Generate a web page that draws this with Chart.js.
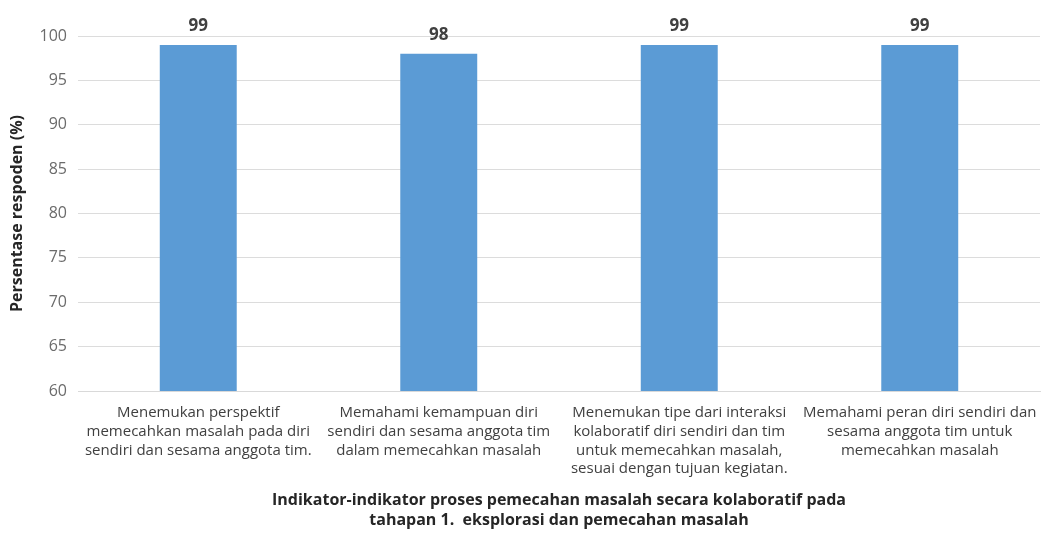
<!DOCTYPE html>
<html>
<head>
<meta charset="utf-8">
<script src="https://cdn.jsdelivr.net/npm/chart.js@4/dist/chart.umd.min.js"></script>
<style>
html,body{margin:0;padding:0;background:#fff;}
#wrap{width:1043px;height:538px;position:relative;}
</style>
</head>
<body>
<div id="wrap"><canvas id="c" width="1043" height="538"></canvas></div>
<script>
const categories = [
  ["Menemukan perspektif", "memecahkan masalah pada diri", "sendiri dan sesama anggota tim."],
  ["Memahami kemampuan diri", "sendiri dan sesama anggota tim", "dalam memecahkan masalah"],
  ["Menemukan tipe dari interaksi", "kolaboratif diri sendiri dan tim", "untuk memecahkan masalah,", "sesuai dengan tujuan kegiatan."],
  ["Memahami peran diri sendiri dan", "sesama anggota tim untuk", "memecahkan masalah"]
];
const values = [99, 98, 99, 99];
const yTitle = "Persentase respoden (%)";
const xTitle = ["Indikator-indikator proses pemecahan masalah secara kolaboratif pada", "tahapan 1.  eksplorasi dan pemecahan masalah"];

const FONT = "'Open Sans', sans-serif";

const dataLabels = {
  id: 'dataLabels',
  afterDatasetsDraw(chart) {
    const ctx = chart.ctx;
    const meta = chart.getDatasetMeta(0);
    ctx.save();
    ctx.font = "bold 17px " + FONT;
    ctx.fillStyle = "#404040";
    ctx.textAlign = "center";
    ctx.textBaseline = "alphabetic";
    meta.data.forEach((bar, i) => {
      ctx.fillText(String(chart.data.datasets[0].data[i]), bar.x, bar.y - 14);
    });
    ctx.restore();
  }
};

new Chart(document.getElementById('c'), {
  type: 'bar',
  data: {
    labels: categories,
    datasets: [{
      data: values,
      backgroundColor: '#5B9BD5',
      borderWidth: 0,
      categoryPercentage: 1.0,
      barPercentage: 0.32
    }]
  },
  options: {
    responsive: false,
    animation: false,
    devicePixelRatio: 1,
    layout: { padding: { top: 36, right: 3, bottom: 0, left: 0 } },
    plugins: { legend: { display: false }, tooltip: { enabled: false } },
    scales: {
      y: {
        min: 60, max: 100,
        ticks: { stepSize: 5, color: '#6b6b6b', font: { family: FONT, size: 16 }, padding: 11 },
        grid: { color: '#dcdcdc', drawTicks: false },
        border: { display: false },
        title: { display: true, text: yTitle, color: '#262626', font: { family: FONT, size: 16, weight: 'bold' }, padding: { top: 8, bottom: 0 } },
        afterFit(s) { s.width = 78; }
      },
      x: {
        ticks: { color: '#404040', font: { family: FONT, size: 15, lineHeight: 1.26 }, maxRotation: 0, minRotation: 0, autoSkip: false, padding: 12 },
        grid: { display: false, drawTicks: false },
        border: { display: true, color: '#d9d9d9' },
        title: { display: true, text: xTitle, color: '#262626', font: { family: FONT, size: 16, weight: 'bold', lineHeight: 1.25 }, padding: { top: 4, bottom: 8 } },
        afterFit(s) { s.height = 147; s.paddingLeft = 0; s.paddingRight = 0; }
      }
    }
  },
  plugins: [dataLabels]
});
</script>
</body>
</html>
